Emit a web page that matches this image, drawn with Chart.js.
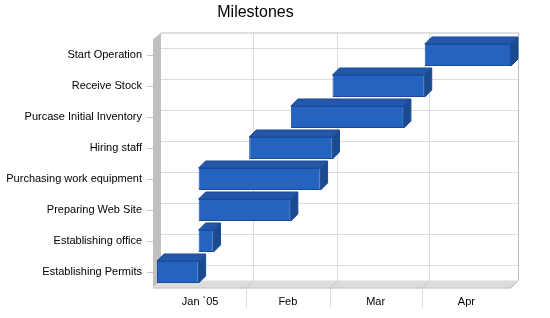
<!DOCTYPE html>
<html>
<head>
<meta charset="utf-8">
<script src="https://cdn.jsdelivr.net/npm/chart.js@4"></script>
<style>
  html, body { margin: 0; padding: 0; background: #fff; }
  #wrap { width: 550px; height: 318px; }
</style>
</head>
<body>
<div id="wrap"><canvas id="myChart" width="550" height="318"></canvas></div>
<script>
// milestones, bottom to top
const categories = [
  "Establishing Permits",
  "Establishing office",
  "Preparing Web Site",
  "Purchasing work equipment",
  "Hiring staff",
  "Purcase Initial Inventory",
  "Receive Stock",
  "Start Operation",
];
// days counted from Jan 1 2005
const startDay = [1, 15, 15, 15, 32, 46, 60, 91];
const endDay = [15, 20, 46, 56, 60, 84, 91, 120];
const monthLabels = ["Jan `05", "Feb", "Mar", "Apr"];
const monthStart = [0, 31, 59, 90, 120];

const DEPTH = 7;

const box3d = {
  id: "box3d",
  beforeDatasetsDraw(chart) {
    const ctx = chart.ctx;
    const a = chart.chartArea;
    const xs = chart.scales.x;
    const ys = chart.scales.y;
    const d = DEPTH;
    ctx.save();
    // left wall
    ctx.fillStyle = "#c0c0c0";
    ctx.beginPath();
    ctx.moveTo(a.left - 1, a.top);
    ctx.lineTo(a.left + d, a.top - d);
    ctx.lineTo(a.left + d, a.bottom - d);
    ctx.lineTo(a.left - 1, a.bottom);
    ctx.closePath();
    ctx.fill();
    // floor
    ctx.fillStyle = "#dcdcdc";
    ctx.beginPath();
    ctx.moveTo(a.left - 1, a.bottom);
    ctx.lineTo(a.left + d, a.bottom - d);
    ctx.lineTo(a.right + d, a.bottom - d);
    ctx.lineTo(a.right, a.bottom);
    ctx.closePath();
    ctx.fill();
    ctx.strokeStyle = "#b4b4b4";
    ctx.lineWidth = 1;
    ctx.beginPath();
    ctx.moveTo(a.left - 1, a.bottom + 0.5);
    ctx.lineTo(a.right, a.bottom + 0.5);
    ctx.lineTo(a.right + d, a.bottom - d);
    ctx.stroke();

    // back wall grid
    ctx.strokeStyle = "#dcdcdc";
    ctx.beginPath();
    for (let i = 0; i < categories.length; i++) {
      const y = Math.round(ys.getPixelForValue(i) - d) + 0.5;
      ctx.moveTo(a.left + d, y);
      ctx.lineTo(a.right + d, y);
    }
    for (let i = 1; i < monthStart.length - 1; i++) {
      const x = Math.round(xs.getPixelForValue(monthStart[i]) + d) + 0.5;
      ctx.moveTo(x, a.top - d);
      ctx.lineTo(x, a.bottom - d);
    }
    ctx.stroke();
    // floor grid + separators under axis
    ctx.strokeStyle = "#c8c8c8";
    ctx.beginPath();
    for (let i = 1; i < monthStart.length - 1; i++) {
      const x = Math.round(xs.getPixelForValue(monthStart[i])) + 0.5;
      ctx.moveTo(x + d, a.bottom - d);
      ctx.lineTo(x, a.bottom);
    }
    ctx.stroke();
    ctx.strokeStyle = "#dcdcdc";
    ctx.beginPath();
    for (let i = 1; i < monthStart.length - 1; i++) {
      const x = Math.round(xs.getPixelForValue(monthStart[i])) + 0.5;
      ctx.moveTo(x, a.bottom + 1);
      ctx.lineTo(x, a.bottom + 20);
    }
    ctx.stroke();
    // back wall border
    ctx.strokeStyle = "#c0c0c0";
    ctx.beginPath();
    ctx.moveTo(a.left + d, a.top - d + 0.5);
    ctx.lineTo(a.right + d + 0.5, a.top - d + 0.5);
    ctx.lineTo(a.right + d + 0.5, a.bottom - d);
    ctx.stroke();
    // y tick dashes
    ctx.strokeStyle = "#c8c8c8";
    ctx.beginPath();
    for (let i = 0; i < categories.length; i++) {
      const y = Math.round(ys.getPixelForValue(i)) + 0.5;
      ctx.moveTo(a.left - 7, y);
      ctx.lineTo(a.left - 1, y);
    }
    ctx.stroke();
    ctx.restore();
  },
  afterDatasetsDraw(chart) {
    const ctx = chart.ctx;
    const d = DEPTH;
    const meta = chart.getDatasetMeta(0);
    ctx.save();
    ctx.lineWidth = 1;
    ctx.strokeStyle = "#1b4a9a";
    meta.data.forEach((bar) => {
      const p = bar.getProps(["x", "y", "base", "height"], true);
      const l = Math.min(p.x, p.base);
      const r = Math.max(p.x, p.base);
      const t = p.y - p.height / 2;
      const b = p.y + p.height / 2;
      // top face
      ctx.fillStyle = "#2457a8";
      ctx.beginPath();
      ctx.moveTo(l, t);
      ctx.lineTo(l + d, t - d);
      ctx.lineTo(r + d, t - d);
      ctx.lineTo(r, t);
      ctx.closePath();
      ctx.fill();
      ctx.stroke();
      // side face
      ctx.fillStyle = "#1c4a8e";
      ctx.beginPath();
      ctx.moveTo(r, t);
      ctx.lineTo(r + d, t - d);
      ctx.lineTo(r + d, b - d);
      ctx.lineTo(r, b);
      ctx.closePath();
      ctx.fill();
      ctx.stroke();
    });
    ctx.restore();
  },
};

const ctx = document.getElementById("myChart");
const myChart = new Chart(ctx, {
  type: "bar",
  data: {
    labels: categories,
    datasets: [
      {
        label: "Milestones",
        data: startDay.map((s, i) => [s, endDay[i]]),
        backgroundColor: "#2563c0",
        borderColor: "#1b4a9a",
        borderWidth: 1,
        borderSkipped: false,
        barPercentage: 0.71,
        categoryPercentage: 1,
      },
    ],
  },
  options: {
    indexAxis: "y",
    responsive: false,
    animation: false,
    devicePixelRatio: 1,
    layout: { padding: { top: 0, right: 39, bottom: 0, left: 0 } },
    plugins: {
      legend: { display: false },
      tooltip: { enabled: false },
      title: {
        display: true,
        text: "Milestones",
        color: "#000",
        font: { family: "'Liberation Sans', Arial, sans-serif", size: 16, weight: "normal" },
        padding: { top: 3, bottom: 17.3 },
      },
    },
    scales: {
      x: {
        type: "linear",
        min: 0,
        max: 120,
        grid: { display: false, drawTicks: false },
        border: { display: false },
        afterBuildTicks: (scale) => {
          scale.ticks = monthLabels.map((m, i) => ({
            value: (monthStart[i] + monthStart[i + 1]) / 2,
          }));
        },
        afterFit: (scale) => {
          scale.height = 30.5;
        },
        ticks: {
          autoSkip: false,
          maxRotation: 0,
          padding: 8,
          color: "#000",
          font: { family: "'Liberation Sans', Arial, sans-serif", size: 11 },
          callback: (v, i) => monthLabels[i],
        },
      },
      y: {
        reverse: true,
        grid: { display: false, drawTicks: false, offset: false },
        border: { display: false },
        afterFit: (scale) => {
          scale.width = 154;
        },
        ticks: {
          padding: 12,
          color: "#000",
          font: { family: "'Liberation Sans', Arial, sans-serif", size: 11 },
        },
      },
    },
  },
  plugins: [box3d],
});
</script>
</body>
</html>
